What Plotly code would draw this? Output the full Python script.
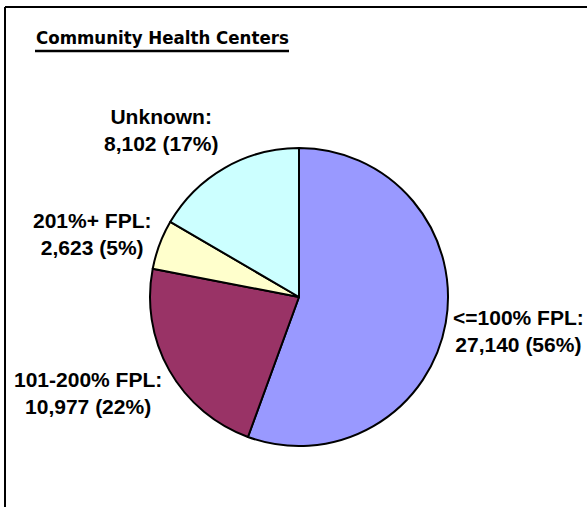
import plotly.graph_objects as go

# ---- data ----
categories = ["<=100% FPL", "101-200% FPL", "201%+ FPL", "Unknown"]
values = [27140, 10977, 2623, 8102]
colors = ["#9999FF", "#993366", "#FFFFCC", "#CCFFFF"]
title_text = "Community Health Centers"

W, H = 587, 507

def px(x):
    return x / W

def py(y):
    return 1 - y / H

total = sum(values)
label_texts = [
    f"{c}:<br>{v:,} ({round(100 * v / total)}%)" for c, v in zip(categories, values)
]

# label placement (pixel centres of each two-line label block)
label_pos = [(518, 331), (88, 393), (92, 234), (161, 130)]

fig = go.Figure(
    go.Pie(
        labels=categories,
        values=values,
        sort=False,
        direction="clockwise",
        rotation=0,
        marker=dict(colors=colors, line=dict(color="black", width=2)),
        textinfo="none",
        hoverinfo="label+value+percent",
        showlegend=False,
        domain=dict(x=[px(150), px(448)], y=[py(446), py(148)]),
    )
)

annotations = []
for txt, (x, y) in zip(label_texts, label_pos):
    annotations.append(
        dict(
            text=f"<b>{txt}</b>",
            x=px(x), y=py(y), xref="paper", yref="paper",
            xanchor="center", yanchor="middle", showarrow=False, align="center",
            font=dict(family="Liberation Sans, Arial, sans-serif", size=21, color="black"),
        )
    )

annotations.append(
    dict(
        text=f"<b>{title_text}</b>",
        x=px(34), y=py(37), xref="paper", yref="paper",
        xanchor="left", yanchor="middle", showarrow=False,
        font=dict(family="DejaVu Sans Condensed, DejaVu Sans, sans-serif", size=18.5, color="black"),
    )
)

shapes = [
    # frame (top and left edges visible)
    dict(type="line", xref="paper", yref="paper", x0=px(5), y0=py(7), x1=1.05, y1=py(7),
         line=dict(color="black", width=2)),
    dict(type="line", xref="paper", yref="paper", x0=px(5), y0=py(7), x1=px(5), y1=-0.05,
         line=dict(color="black", width=2)),
    # title underline
    dict(type="line", xref="paper", yref="paper", x0=px(35), y0=py(51), x1=px(289), y1=py(51),
         line=dict(color="black", width=2.5)),
]

fig.update_layout(
    width=W, height=H,
    margin=dict(l=0, r=0, t=0, b=0),
    paper_bgcolor="white", plot_bgcolor="white",
    annotations=annotations,
    shapes=shapes,
)

fig.write_html(
    "out.html",
    config={"displayModeBar": False},
    post_script="document.body.style.margin='0';document.body.style.overflow='hidden';",
)
